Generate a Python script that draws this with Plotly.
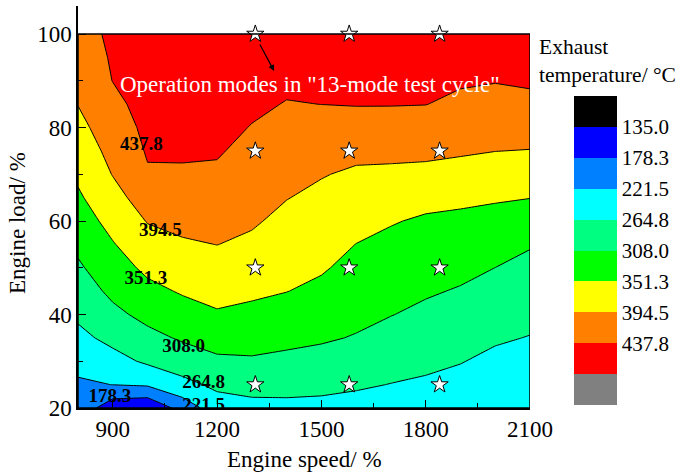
import numpy as np
import plotly.graph_objects as go

# ---- data ----
engine_speed = [800, 900, 1000, 1100, 1200, 1300, 1400, 1500, 1600, 1700, 1800, 1900, 2000, 2100]
engine_load = [20, 25, 30, 35, 40, 45, 50, 55, 60, 65, 70, 75, 80, 85, 90, 95, 100]

# exhaust temperature (°C); one list per engine speed, ordered by engine_load
temp_by_speed = [
    [210, 215.3, 234.8, 254.3, 271.8, 286.9, 302.1, 316.6, 331.0, 345.3, 358.5, 370.8, 383.2, 395.5, 407.8, 414, 420],
    [150, 222.0, 250.4, 276.0, 298.3, 316.9, 332.8, 348.7, 364.7, 380.7, 396.0, 406.4, 416.9, 427.3, 438.5, 442, 446],
    [140, 226.7, 271.3, 296.5, 319.3, 340.3, 360.1, 378.4, 396.6, 413.8, 434.0, 441.4, 447, 453, 459, 465, 471],
    [195, 253.0, 286.1, 312.8, 334.4, 355.1, 372.5, 389.9, 405.0, 419.3, 433.5, 442.4, 449, 455, 462, 468, 475],
    [245.4, 273.1, 300.8, 324.7, 347.2, 364.1, 379.6, 395.0, 407.3, 419.7, 432.0, 441.3, 448, 454, 461, 467, 474],
    [253.2, 278.4, 303.5, 323.2, 341.7, 358.3, 372.8, 387.4, 399.2, 408.5, 417.8, 427.1, 436.4, 444.1, 451.6, 459, 466],
    [255.2, 277.0, 298.9, 318.0, 335.2, 352.0, 362.9, 373.9, 384.8, 395.7, 405.9, 416.0, 426.2, 436.3, 444.3, 451.8, 459],
    [254.4, 274.4, 294.5, 312.8, 327.6, 342.5, 355.4, 365.6, 375.8, 386.0, 396.7, 410.5, 424.3, 438.0, 445.5, 453, 460],
    [251.4, 269.5, 287.5, 305.6, 317.5, 328.6, 339.7, 350.8, 363.4, 376.0, 388.6, 404.2, 422.8, 439.3, 446.8, 454, 462],
    [248.6, 263.9, 279.1, 294.4, 309.1, 320.1, 331.1, 342.1, 353.9, 370.3, 386.7, 404.1, 422.6, 439.2, 446.7, 454, 461],
    [246.0, 259.4, 272.9, 286.3, 299.8, 312.3, 323.6, 334.9, 346.2, 362.7, 383.9, 403.5, 421.4, 438.4, 446, 453, 461],
    [240.5, 253.4, 266.3, 279.2, 292.1, 305.0, 317.7, 330.4, 343.2, 358.9, 379.9, 399.2, 414.8, 430.4, 441.7, 449, 456],
    [230.5, 243.4, 256.3, 269.2, 282.1, 295.0, 307.9, 323.3, 338.9, 355.2, 374.9, 395.0, 410.0, 425.4, 439.3, 447, 454],
    [228.6, 240.2, 251.8, 263.4, 275.0, 286.6, 298.2, 310.8, 331.1, 352.0, 372.3, 393.3, 411.6, 429.8, 442, 449, 456],
]

levels = [135.0, 178.3, 221.5, 264.8, 308.0, 351.3, 394.5, 437.8]
# band colours from coldest (below 135.0) to hottest (above the last band)
band_colors = ["#000000", "#0000FF", "#0080FF", "#00FFFF", "#00FF80",
               "#00FF00", "#FFFF00", "#FF8000", "#FF0000", "#808080"]

# operation modes of the 13-mode test cycle
mode_speed = [1310, 1580, 1840]
mode_load = [25, 50, 75, 100]

# contour labels
label_text = ["437.8", "394.5", "351.3", "308.0", "264.8", "178.3", "221.5"]
label_x = [982, 1037, 995, 1104, 1161, 892, 1161]
label_y = [76.3, 57.8, 47.5, 33.1, 25.4, 22.3, 20.3]

# ---- figure ----
# the colour bar runs from cold (top) to hot (bottom): plot negated temperatures
z = -np.array(temp_by_speed).T
step = (levels[-1] - levels[0]) / (len(levels) - 1)
neg_levels = [-v for v in levels]
n_bands = len(band_colors)
colorscale = [[k / (n_bands - 1), c] for k, c in enumerate(band_colors[::-1])]
c_start = -(levels[-1] + step)
c_end = -levels[0]

FONT = "Liberation Serif"

fig = go.Figure()
fig.add_trace(go.Contour(
    x=engine_speed, y=engine_load, z=z,
    autocontour=False,
    contours=dict(start=c_start, end=c_end, size=step,
                  coloring="fill", showlines=False),
    zmin=c_start - step, zmax=c_end + step,
    colorscale=colorscale,
    line=dict(width=0, smoothing=0),
    colorbar=dict(
        tickvals=neg_levels, ticktext=[f"{v:.1f}" for v in levels],
        thickness=43, len=309, lenmode="pixels",
        x=1.097, xanchor="left", xpad=0,
        y=0.0075, yanchor="bottom", ypad=0,
        outlinewidth=0, ticks="",
        tickfont=dict(family=FONT, size=21, color="black"),
    ),
    hoverinfo="skip",
))
# isotherm lines
fig.add_trace(go.Contour(
    x=engine_speed, y=engine_load, z=z,
    autocontour=False,
    contours=dict(start=c_start, end=c_end, size=step,
                  coloring="none", showlines=True),
    line=dict(color="black", width=1, smoothing=0),
    showscale=False, hoverinfo="skip",
))

sx = [s for l in mode_load for s in mode_speed]
sy = [l for l in mode_load for s in mode_speed]
fig.add_trace(go.Scatter(
    x=sx, y=sy, mode="markers", cliponaxis=False, showlegend=False,
    marker=dict(symbol="star", size=13, color="white", line=dict(color="black", width=1)),
))

fig.add_trace(go.Scatter(
    x=label_x, y=label_y, mode="text", text=label_text, cliponaxis=True,
    showlegend=False,
    textfont=dict(family=FONT, size=19, color="black", weight="bold"),
))

# frame of the data region
fig.add_shape(type="rect", xref="x", yref="y",
              x0=engine_speed[0], x1=engine_speed[-1], y0=engine_load[0], y1=engine_load[-1],
              line=dict(color="black", width=1.5), fillcolor="rgba(0,0,0,0)")

fig.add_annotation(x=1467, y=89.3, xref="x", yref="y", showarrow=False,
                   xanchor="center", yanchor="middle",
                   text='Operation modes in "13-mode test cycle"',
                   font=dict(family=FONT, size=23, color="white"))
fig.add_annotation(x=1364, y=92.1, xref="x", yref="y", text="", showarrow=True,
                   ax=-15, ay=-28, arrowhead=2, arrowsize=1, arrowwidth=1.2,
                   arrowcolor="black", standoff=0, startstandoff=0)

fig.add_annotation(x=1.0155, y=0.933, xref="paper", yref="paper", xanchor="left", yanchor="top",
                   align="left", showarrow=False, text="Exhaust<br>temperature/ °C",
                   font=dict(family=FONT, size=21.5, color="black"))
fig.add_annotation(x=-0.1338, y=0.459, xref="paper", yref="paper", textangle=-90,
                   xanchor="center", yanchor="middle",
                   showarrow=False, text="Engine load/ %",
                   font=dict(family=FONT, size=23, color="black"))
fig.add_annotation(x=0.502, y=-0.127, xref="paper", yref="paper",
                   xanchor="center", yanchor="middle",
                   showarrow=False, text="Engine speed/ %",
                   font=dict(family=FONT, size=23, color="black"))

fig.update_layout(
    width=677, height=474,
    margin=dict(l=78, r=147, t=6, b=66),
    paper_bgcolor="white", plot_bgcolor="white",
    font=dict(family=FONT, size=23, color="black"),
    showlegend=False,
    xaxis=dict(range=[800, 2100], tickvals=[900, 1200, 1500, 1800, 2100],
               ticks="inside", ticklen=8, tickcolor="black", tickwidth=1,
               minor=dict(ticks="inside", ticklen=5, tickvals=[1050, 1350, 1650, 1950], tickcolor="black"),
               showline=True, linecolor="black", linewidth=1.5, showgrid=False, zeroline=False,
               tickfont=dict(family=FONT, size=23)),
    yaxis=dict(range=[20, 106], tickvals=[20, 40, 60, 80, 100],
               ticks="inside", ticklen=8, tickcolor="black", tickwidth=1,
               minor=dict(ticks="inside", ticklen=5, tickvals=[30, 50, 70, 90], tickcolor="black"),
               showline=True, linecolor="black", linewidth=1.5, showgrid=False, zeroline=False,
               tickfont=dict(family=FONT, size=23)),
)

fig.write_html("out.html")
